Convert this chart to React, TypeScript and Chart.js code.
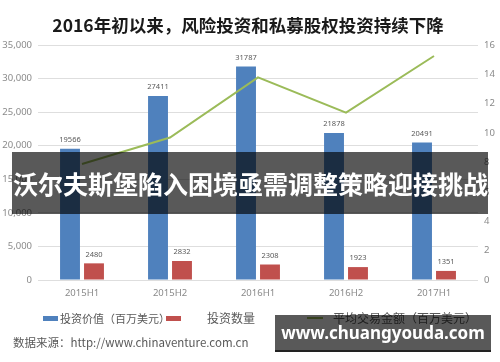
import React, { useEffect, useRef } from "react";
import { Chart, registerables } from "chart.js";

Chart.register(...registerables);

const title = "2016年初以来，风险投资和私募股权投资持续下降";
const categories = ["2015H1", "2015H2", "2016H1", "2016H2", "2017H1"];
const investValue = [19566, 27411, 31787, 21878, 20491];
const investCount = [2480, 2832, 2308, 1923, 1351];
const avgDeal = [7.9, 9.7, 13.8, 11.4, 15.25];
const seriesNames = ["投资价值（百万美元）", "投资数量", "平均交易金额（百万美元）"];
const sourceText = "数据来源：http://www.chinaventure.com.cn";
const bannerText = "沃尔夫斯堡陷入困境亟需调整策略迎接挑战";
const watermarkText = "www.chuangyouda.com";

const BLUE = "#4f81bd";
const RED = "#c0504d";
const GREEN = "#9bbb59";
const CJK = '"Noto Sans CJK SC", "Noto Sans", sans-serif';

const barLabels = {
  id: "barLabels",
  afterDatasetsDraw(chart: any) {
    const ctx = chart.ctx;
    ctx.save();
    ctx.font = '7.5px "Noto Sans", sans-serif';
    ctx.fillStyle = "#595959";
    ctx.textAlign = "center";
    ctx.textBaseline = "bottom";
    chart.data.datasets.forEach((ds: any, di: number) => {
      if (ds.type !== "bar") return;
      const meta = chart.getDatasetMeta(di);
      meta.data.forEach((el: any, i: number) => {
        ctx.fillText(String(ds.data[i]), el.x, el.y - 5);
      });
    });
    ctx.restore();
  },
};

export default function App() {
  const ref = useRef<HTMLCanvasElement | null>(null);
  useEffect(() => {
    if (!ref.current) return;
    const tickFont = { family: '"Noto Sans", sans-serif', size: 9.5 };
    const chart = new Chart(ref.current, {
      type: "bar",
      data: {
        labels: categories,
        datasets: [
          {
            type: "line",
            label: seriesNames[2],
            data: avgDeal,
            borderColor: GREEN,
            backgroundColor: GREEN,
            borderWidth: 2,
            pointRadius: 0,
            tension: 0,
            yAxisID: "y1",
            order: 0,
          } as any,
          {
            type: "bar",
            label: seriesNames[0],
            data: investValue,
            backgroundColor: BLUE,
            yAxisID: "y",
            categoryPercentage: 0.545,
            barPercentage: 0.83,
            order: 1,
          },
          {
            type: "bar",
            label: seriesNames[1],
            data: investCount,
            backgroundColor: RED,
            yAxisID: "y",
            categoryPercentage: 0.545,
            barPercentage: 0.83,
            order: 1,
          },
        ],
      },
      options: {
        animation: false,
        responsive: false,
        devicePixelRatio: 1,
        layout: { padding: { top: 45, bottom: 0, left: 0, right: 0 } },
        plugins: { legend: { display: false }, title: { display: false }, tooltip: { enabled: false } },
        scales: {
          x: {
            grid: { display: false, drawTicks: false },
            border: { display: false },
            ticks: { color: "#8a8a8a", font: tickFont, padding: 8 },
            afterFit: (s: any) => { s.height = 82; },
          },
          y: {
            position: "left",
            min: 0,
            max: 35000,
            ticks: { stepSize: 5000, color: "#8a8a8a", font: tickFont, padding: 6 },
            grid: { color: "#dedede", drawTicks: false },
            border: { display: false },
            afterFit: (s: any) => { s.width = 38; },
          },
          y1: {
            position: "right",
            min: 0,
            max: 16,
            ticks: { stepSize: 2, color: "#8a8a8a", font: tickFont, padding: 6 },
            grid: { drawOnChartArea: false, drawTicks: false },
            border: { display: false },
            afterFit: (s: any) => { s.width = 22; },
          },
        },
      } as any,
      plugins: [barLabels],
    });
    return () => chart.destroy();
  }, []);

  const abs = (o: any) => ({ position: "absolute" as const, ...o });

  return (
    <div style={abs({ left: 0, top: 0, width: 500, height: 362, background: "#fff", overflow: "hidden", fontFamily: CJK })}>
      <canvas ref={ref} width={500} height={362} style={{ position: "absolute", left: 0, top: 0, width: 500, height: 362 }} />
      <div style={abs({ left: 0, top: 14, width: 496, height: 22, lineHeight: "22px", textAlign: "center", fontSize: 17.5, fontWeight: 700, color: "#1a1a1a", whiteSpace: "nowrap" })}>
        {title}
      </div>
      {/* legend */}
      <div style={abs({ left: 43, top: 316, width: 15, height: 5, background: BLUE })} />
      <div style={abs({ left: 60, top: 310, height: 16, lineHeight: "16px", fontSize: 11, color: "#595959", whiteSpace: "nowrap" })}>{seriesNames[0]}</div>
      <div style={abs({ left: 166, top: 316, width: 15, height: 5, background: RED })} />
      <div style={abs({ left: 207, top: 310, height: 16, lineHeight: "16px", fontSize: 12, color: "#595959", whiteSpace: "nowrap" })}>{seriesNames[1]}</div>
      <div style={abs({ left: 307, top: 317, width: 16, height: 2, background: GREEN })} />
      <div style={abs({ left: 333, top: 310, height: 16, lineHeight: "16px", fontSize: 12, color: "#595959", whiteSpace: "nowrap" })}>{seriesNames[2]}</div>
      {/* source */}
      <div style={abs({ left: 13, top: 334, height: 16, lineHeight: "16px", fontSize: 11.5, color: "#595959", whiteSpace: "nowrap" })}>{sourceText}</div>
      {/* banner overlay */}
      <div style={abs({ left: 12, top: 152, width: 476, height: 62, background: "rgba(0,0,0,0.65)" })} />
      <div style={abs({ left: 13, top: 152, width: 476, height: 62, lineHeight: "62px", fontSize: 25, fontWeight: 700, color: "#fff", whiteSpace: "nowrap" })}>{bannerText}</div>
      {/* watermark */}
      <div style={abs({ left: 275, top: 315, width: 216, height: 35, background: "rgba(0,0,0,0.65)", borderBottom: "2px solid #222" })} />
      <div style={abs({ left: 275, top: 315, width: 216, height: 36, lineHeight: "36px", textAlign: "center", fontFamily: '"Noto Sans", sans-serif', fontSize: 17, fontWeight: 700, color: "#fff", whiteSpace: "nowrap" })}>{watermarkText}</div>
    </div>
  );
}
